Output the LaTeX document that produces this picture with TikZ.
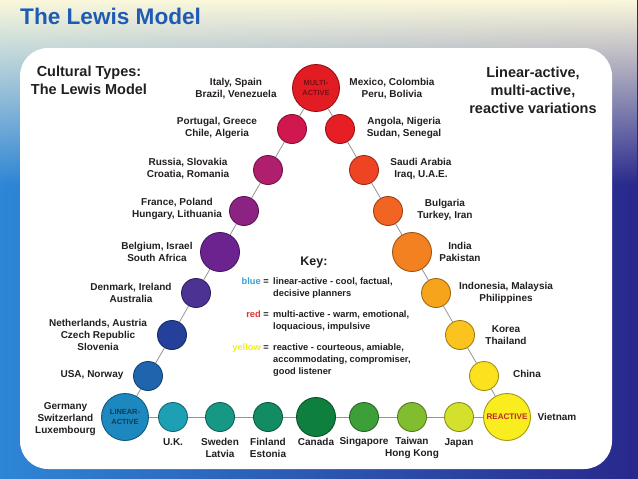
\documentclass[tikz,border=0pt]{standalone}
\usepackage{fontspec}
\setmainfont{Liberation Sans}
\usetikzlibrary{fadings}
\definecolor{ink}{HTML}{231F20}
\definecolor{slideblue}{HTML}{1F5BB5}
\definecolor{bgleft}{HTML}{2E86D6}
\definecolor{bgright}{HTML}{29288C}
\definecolor{bgtop}{HTML}{FBF8DC}
\definecolor{cmulti}{HTML}{E31B23}
\definecolor{cportugal}{HTML}{D0184F}
\definecolor{crussia}{HTML}{B01F6E}
\definecolor{cfrance}{HTML}{8C2383}
\definecolor{cbelgium}{HTML}{6C2390}
\definecolor{cdenmark}{HTML}{4B3393}
\definecolor{cnether}{HTML}{24409A}
\definecolor{cusa}{HTML}{1F65AE}
\definecolor{clinear}{HTML}{1C88BF}
\definecolor{cuk}{HTML}{1DA0B3}
\definecolor{csweden}{HTML}{179885}
\definecolor{cfinland}{HTML}{138C64}
\definecolor{ccanada}{HTML}{0E7F3D}
\definecolor{csingapore}{HTML}{3D9F38}
\definecolor{ctaiwan}{HTML}{82BD2F}
\definecolor{cjapan}{HTML}{D3E02C}
\definecolor{creactive}{HTML}{F9EC1F}
\definecolor{cchina}{HTML}{FCE11F}
\definecolor{ckorea}{HTML}{FAC31D}
\definecolor{cindonesia}{HTML}{F6A41C}
\definecolor{cindia}{HTML}{F4811F}
\definecolor{cbulgaria}{HTML}{F16422}
\definecolor{csaudi}{HTML}{EE4423}
\definecolor{cangola}{HTML}{E81E25}
\definecolor{keyblue}{HTML}{3AA0D8}
\definecolor{keyred}{HTML}{E03030}
\definecolor{keyyellow}{HTML}{EEF01E}

\begin{document}
\begin{tikzpicture}[x=1pt, y=-1pt,
  every node/.style={font=\bfseries\fontsize{10}{12}\selectfont, text=ink},
  lbl/.style={align=center, inner sep=0pt},
  dot/.style={circle, draw=#1!65!black, fill=#1, line width=0.9pt, inner sep=0pt, minimum size=29pt},
  bigdot/.style={dot=#1, minimum size=39pt},
  hub/.style={dot=#1, minimum size=47pt, align=center, font=\bfseries\fontsize{7.4}{10}\selectfont},
  link/.style={draw=gray!85, line width=0.8pt},
  keytext/.style={align=left, inner sep=0pt, font=\bfseries\fontsize{9.3}{12}\selectfont}]
  % slide background
  \useasboundingbox (0,0) rectangle (638,479);
  \fill[left color=bgleft, right color=bgright] (0,0) rectangle (638,479);
  \fill[bgtop, path fading=south] (0,0) rectangle (638,185);
  \fill[white, rounded corners=28pt] (20,48) rectangle (612,469);
  \node[anchor=base west, inner sep=0pt, text=slideblue, font=\bfseries\fontsize{22.6}{26}\selectfont] (title) at (20,24.5) {The Lewis Model};
  \node[lbl, font=\bfseries\fontsize{14.5}{18}\selectfont] (types) at (89,80) {Cultural Types:\\The Lewis Model};
  \node[lbl, font=\bfseries\fontsize{14.5}{18}\selectfont] (variations) at (533,90) {Linear-active,\\multi-active,\\reactive variations};
  % circles
  \node[hub=cmulti, text=cmulti!55!black] (multi) at (316,88) {MULTI-\\ACTIVE};
  \node[dot=cportugal] (portugal) at (292,129) {};
  \node[dot=crussia] (russia) at (268,170) {};
  \node[dot=cfrance] (france) at (244,211) {};
  \node[bigdot=cbelgium] (belgium) at (220,252) {};
  \node[dot=cdenmark] (denmark) at (196,293) {};
  \node[dot=cnether] (netherlands) at (172,335) {};
  \node[dot=cusa] (usa) at (148,376) {};
  \node[hub=clinear, text=clinear!45!black] (linear) at (125,417) {LINEAR-\\ACTIVE};
  \node[dot=cuk] (uk) at (173,417) {};
  \node[dot=csweden] (sweden) at (220,417) {};
  \node[dot=cfinland] (finland) at (268,417) {};
  \node[bigdot=ccanada] (canada) at (316,417) {};
  \node[dot=csingapore] (singapore) at (364,417) {};
  \node[dot=ctaiwan] (taiwan) at (412,417) {};
  \node[dot=cjapan] (japan) at (459,417) {};
  \node[hub=creactive, text=keyred!85!black, font=\bfseries\fontsize{8.1}{10}\selectfont] (reactive) at (507,417) {REACTIVE};
  \node[dot=cangola] (angola) at (340,129) {};
  \node[dot=csaudi] (saudi) at (364,170) {};
  \node[dot=cbulgaria] (bulgaria) at (388,211) {};
  \node[bigdot=cindia] (india) at (412,252) {};
  \node[dot=cindonesia] (indonesia) at (436,293) {};
  \node[dot=ckorea] (korea) at (460,335) {};
  \node[dot=cchina] (china) at (484,376) {};
  % connectors
  \draw[link] (multi) -- (portugal);
  \draw[link] (portugal) -- (russia);
  \draw[link] (russia) -- (france);
  \draw[link] (france) -- (belgium);
  \draw[link] (belgium) -- (denmark);
  \draw[link] (denmark) -- (netherlands);
  \draw[link] (netherlands) -- (usa);
  \draw[link] (usa) -- (linear);
  \draw[link] (linear) -- (uk);
  \draw[link] (uk) -- (sweden);
  \draw[link] (sweden) -- (finland);
  \draw[link] (finland) -- (canada);
  \draw[link] (canada) -- (singapore);
  \draw[link] (singapore) -- (taiwan);
  \draw[link] (taiwan) -- (japan);
  \draw[link] (japan) -- (reactive);
  \draw[link] (reactive) -- (china);
  \draw[link] (china) -- (korea);
  \draw[link] (korea) -- (indonesia);
  \draw[link] (indonesia) -- (india);
  \draw[link] (india) -- (bulgaria);
  \draw[link] (bulgaria) -- (saudi);
  \draw[link] (saudi) -- (angola);
  \draw[link] (angola) -- (multi);
  % country labels
  \node[lbl] (italy-l) at (236,89) {Italy, Spain\\Brazil, Venezuela};
  \node[lbl] (portugal-l) at (217,128) {Portugal, Greece\\Chile, Algeria};
  \node[lbl] (russia-l) at (188,169) {Russia, Slovakia\\Croatia, Romania};
  \node[lbl] (france-l) at (177,209) {France, Poland\\Hungary, Lithuania};
  \node[lbl] (belgium-l) at (157,252) {Belgium, Israel\\South Africa};
  \node[lbl] (denmark-l) at (131,293) {Denmark, Ireland\\Australia};
  \node[lbl] (netherlands-l) at (98,335) {Netherlands, Austria\\Czech Republic\\Slovenia};
  \node[lbl] (usa-l) at (92,375) {USA, Norway};
  \node[lbl] (germany-l) at (65.5,419) {Germany\\Switzerland\\Luxembourg};
  \node[lbl] (uk-l) at (173,442) {U.K.};
  \node[lbl] (sweden-l) at (220,448) {Sweden\\Latvia};
  \node[lbl] (finland-l) at (268,448) {Finland\\Estonia};
  \node[lbl] (canada-l) at (316,442) {Canada};
  \node[lbl] (singapore-l) at (364,442) {Singapore};
  \node[lbl] (taiwan-l) at (412,448) {Taiwan\\Hong Kong};
  \node[lbl] (japan-l) at (459,443) {Japan};
  \node[lbl] (mexico-l) at (392,89) {Mexico, Colombia\\Peru, Bolivia};
  \node[lbl] (angola-l) at (404,128) {Angola, Nigeria\\Sudan, Senegal};
  \node[lbl] (saudi-l) at (421,169) {Saudi Arabia\\Iraq, U.A.E.};
  \node[lbl] (bulgaria-l) at (445,210) {Bulgaria\\Turkey, Iran};
  \node[lbl] (india-l) at (460,252) {India\\Pakistan};
  \node[lbl] (indonesia-l) at (506,293) {Indonesia, Malaysia\\Philippines};
  \node[lbl] (korea-l) at (506,335) {Korea\\Thailand};
  \node[lbl] (china-l) at (527,374) {China};
  \node[lbl] (vietnam-l) at (557,417) {Vietnam};
  % key
  \node[inner sep=0pt, font=\bfseries\fontsize{12.5}{15}\selectfont] (key) at (314,262) {Key:};
  \node[keytext, anchor=base east] (blue) at (269,284.4) {\textcolor{keyblue}{blue} =};
  \node[keytext, anchor=north west] (blue-txt) at (273,277.5) {linear-active - cool, factual,\\decisive planners};
  \node[keytext, anchor=base east] (red) at (269,317.4) {\textcolor{keyred}{red} =};
  \node[keytext, anchor=north west] (red-txt) at (273,310.5) {multi-active - warm, emotional,\\loquacious, impulsive};
  \node[keytext, anchor=base east] (yellow) at (269,350.4) {\textcolor{keyyellow}{yellow} =};
  \node[keytext, anchor=north west] (yellow-txt) at (273,343.5) {reactive - courteous, amiable,\\accommodating, compromiser,\\good listener};
\end{tikzpicture}
\end{document}
